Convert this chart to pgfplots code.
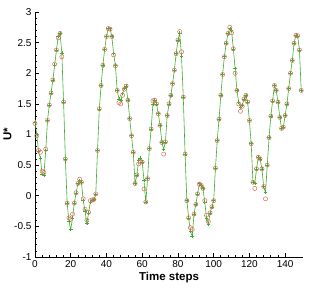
\documentclass[border=0pt]{standalone}
\usepackage{pgfplots}
\pgfplotsset{compat=1.18}
\usepackage{pgfplotstable}
\usepackage{fontspec}
\setmainfont{Liberation Sans}
\definecolor{lgreen}{RGB}{60,175,45}
\definecolor{lred}{RGB}{215,110,95}
\pgfplotstableread{
t g r
0 1.20 1.18
1 1.00 0.98
2 0.72 0.74
3 0.62 0.71
4 0.35 0.40
5 0.34 0.38
6 0.74 0.76
7 1.23 1.23
8 1.48 1.48
9 1.68 1.68
10 1.89 1.89
11 2.13 2.15
12 2.38 2.38
13 2.60 2.58
14 2.66 2.65
15 2.33 2.27
16 1.53 1.53
17 0.60 0.60
18 -0.12 -0.12
19 -0.42 -0.36
20 -0.55 -0.38
21 -0.36 -0.30
22 -0.12 -0.12
23 0.04 0.05
24 0.20 0.20
25 0.25 0.27
26 0.22 0.22
27 -0.08 -0.05
28 -0.25 -0.22
29 -0.45 -0.40
30 -0.28 -0.27
31 -0.10 -0.08
32 -0.08 -0.07
33 -0.06 -0.06
34 0.02 0.03
35 0.74 0.74
36 1.42 1.42
37 1.80 1.80
38 2.13 2.13
39 2.39 2.39
40 2.60 2.60
41 2.73 2.73
42 2.73 2.72
43 2.60 2.60
44 2.32 2.30
45 2.13 2.12
46 1.72 1.72
47 1.58 1.52
48 1.56 1.50
49 1.67 1.64
50 1.75 1.74
51 1.79 1.79
52 1.56 1.56
53 1.26 1.26
54 0.98 0.98
55 0.71 0.71
56 0.20 0.20
57 0.33 0.34
58 0.58 0.52
59 0.62 0.55
60 0.55 0.55
61 0.25 0.11
62 -0.11 -0.10
63 0.28 0.28
64 0.77 0.77
65 1.09 1.09
66 1.50 1.55
67 1.56 1.56
68 1.50 1.50
69 1.34 1.34
70 1.15 1.15
71 0.87 0.87
72 0.76 0.68
73 0.88 0.88
74 1.31 1.31
75 1.50 1.50
76 1.64 1.64
77 1.83 1.83
78 2.05 2.05
79 2.32 2.32
80 2.54 2.54
81 2.66 2.68
82 2.28 2.35
83 1.61 1.61
84 0.68 0.68
85 -0.08 -0.08
86 -0.36 -0.36
87 -0.58 -0.52
88 -0.66 -0.55
89 -0.30 -0.30
90 -0.14 -0.14
91 0.03 0.03
92 0.20 0.19
93 0.17 0.17
94 0.12 0.12
95 -0.10 -0.08
96 -0.36 -0.32
97 -0.46 -0.42
98 -0.28 -0.28
99 -0.18 -0.18
100 -0.08 -0.08
101 0.45 0.45
102 0.90 0.90
103 1.25 1.25
104 1.64 1.64
105 1.98 1.98
106 2.27 2.27
107 2.49 2.49
108 2.65 2.65
109 2.73 2.75
110 2.70 2.66
111 2.40 2.40
112 2.08 2.00
113 1.72 1.72
114 1.53 1.50
115 1.45 1.38
116 1.48 1.46
117 1.58 1.58
118 1.64 1.64
119 1.53 1.53
120 1.23 1.23
121 0.85 0.85
122 0.22 0.22
123 0.20 0.12
124 0.44 0.44
125 0.63 0.63
126 0.60 0.60
127 0.44 0.44
128 0.15 0.15
129 0.05 -0.05
130 0.50 0.50
131 0.95 0.95
132 1.30 1.30
133 1.55 1.55
134 1.80 1.80
135 1.72 1.72
136 1.53 1.53
137 1.28 1.28
138 1.10 1.10
139 1.12 1.12
140 1.31 1.31
141 1.50 1.50
142 1.75 1.75
143 2.00 2.00
144 2.21 2.21
145 2.49 2.49
146 2.62 2.62
147 2.61 2.61
148 2.38 2.38
149 1.72 1.72
}\datatable
\begin{document}
\begin{tikzpicture}
\begin{axis}[
  scale only axis,
  width=268pt, height=245pt,
  xmin=0, xmax=150, ymin=-1, ymax=3,
  axis lines=left,
  axis line style={-, line width=0.9pt},
  xtick={0,20,...,140},
  ytick={-1,-0.5,0,0.5,1,1.5,2,2.5,3},
  minor x tick num=4,
  minor y tick num=4,
  tick align=inside,
  major tick length=4pt,
  minor tick length=2pt,
  tick style={black, line width=0.7pt},
  /pgf/number format/assume math mode=true,
  ticklabel style={font=\fontsize{10}{12}\selectfont},
  yticklabel style={/pgf/number format/fixed},
  xlabel={\bfseries Time steps},
  ylabel={\bfseries U*},
  xlabel style={font=\fontsize{11.5}{13}\selectfont, yshift=2pt},
  ylabel style={font=\fontsize{11.5}{13}\selectfont, yshift=-4pt},
  clip=false,
]
\addplot[lgreen, line width=0.6pt, mark=+, mark size=1.8pt, mark options={lgreen, line width=0.5pt}] table[x=t, y=g] {\datatable};
\addplot[only marks, mark=o, mark size=2.1pt, mark options={lred, line width=0.5pt, fill opacity=0}] table[x=t, y=r] {\datatable};
\end{axis}
\path (current axis.south west) ++(-35pt,-38pt) rectangle ++(312pt,295pt);
\end{tikzpicture}
\end{document}
